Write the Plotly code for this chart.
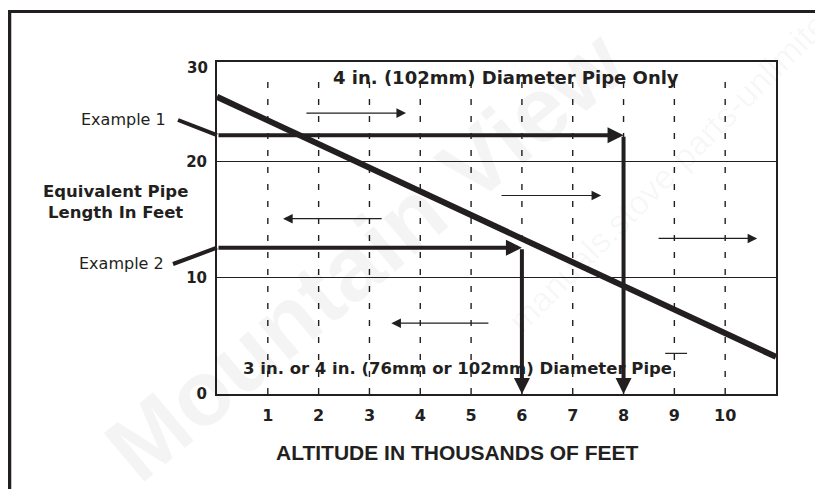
import plotly.graph_objects as go

# ---------------- data ----------------
ALTITUDE_TICKS = [1, 2, 3, 4, 5, 6, 7, 8, 9, 10]
LENGTH_TICKS = [0, 10, 20]
LENGTH_TICK_LABELS = ["0", "10", "20"]
TOP_TICK_LABEL = "30"
X_MAX = 11
Y_MAX = 28.6
GUIDE_TOP = 27.0

CURVE_ALT = [0, 11]
CURVE_LEN = [25.6, 3.2]

EXAMPLE_NAMES = ["Example 1", "Example 2"]
EXAMPLE_LEN = [22.3, 12.6]
EXAMPLE_ALT = [8, 6]

ARROW_FROM = [1.73, 3.27, 5.57, 8.66, 5.37]
ARROW_TO = [3.72, 1.30, 7.56, 10.63, 3.43]
ARROW_LEN = [24.2, 15.1, 17.1, 13.4, 6.1]

STRAY_ALT = [8.82, 9.25]
STRAY_LEN = [3.5, 3.5]

TOP_REGION_TEXT = "4 in. (102mm) Diameter Pipe Only"
TOP_REGION_POS = (5.68, 27.3)
BOTTOM_REGION_TEXT = "3 in. or 4 in. (76mm or 102mm) Diameter Pipe"
BOTTOM_REGION_POS = (4.73, 2.2)

Y_TITLE = "Equivalent Pipe<br>Length In Feet"
X_TITLE = "ALTITUDE IN THOUSANDS OF FEET"

# ---------------- style ----------------
INK = "#231f20"
FONT = "DejaVu Sans"
PAGE_OFFSET = 8          # default body margin of the html page
W, H = 823 - PAGE_OFFSET, 489 - PAGE_OFFSET
PLOT_L, PLOT_R, PLOT_T, PLOT_B = 217, 776, 62, 394   # page pixels
ML = PLOT_L - PAGE_OFFSET
MT = PLOT_T - PAGE_OFFSET
PW = PLOT_R - PLOT_L
PH = PLOT_B - PLOT_T
MR = W - ML - PW
MB = H - MT - PH


def px_x(p):
    return (p - PLOT_L) / PW


def px_y(p):
    return (PLOT_B - p) / PH


fig = go.Figure()

# dashed altitude guides
gx, gy = [], []
for a in ALTITUDE_TICKS:
    gx += [a, a, None]
    gy += [0, GUIDE_TOP, None]
fig.add_trace(go.Scatter(x=gx, y=gy, mode="lines",
                         line=dict(color=INK, width=1.4, dash="6px,11px"),
                         hoverinfo="skip", showlegend=False))

# stray mark
fig.add_trace(go.Scatter(x=STRAY_ALT, y=STRAY_LEN, mode="lines",
                         line=dict(color=INK, width=1.2),
                         hoverinfo="skip", showlegend=False))

# main curve
fig.add_trace(go.Scatter(x=CURVE_ALT, y=CURVE_LEN, mode="lines",
                         line=dict(color=INK, width=6),
                         hoverinfo="skip", showlegend=False))

annotations = []

# watermarks (drawn first, beneath other annotations)
annotations.append(dict(x=px_x(365), y=px_y(255), xref="paper", yref="paper",
                        xanchor="center", yanchor="middle",
                        text="<b>Mountain View</b>", showarrow=False, textangle=-40,
                        font=dict(family="Liberation Sans", size=92, color="rgba(0,0,0,0.045)")))
annotations.append(dict(x=px_x(700), y=px_y(140), xref="paper", yref="paper",
                        xanchor="center", yanchor="middle",
                        text="manuals.stove-parts-unlimited.com", showarrow=False, textangle=-45,
                        font=dict(family="Liberation Sans", size=34, color="rgba(0,0,0,0.04)")))

# example arrows
for name, ylen, alt in zip(EXAMPLE_NAMES, EXAMPLE_LEN, EXAMPLE_ALT):
    annotations.append(dict(x=alt, y=ylen, ax=0, ay=ylen, xref="x", yref="y",
                            axref="x", ayref="y", text="", showarrow=True,
                            arrowhead=2, arrowsize=0.8, arrowwidth=4,
                            arrowcolor=INK, standoff=0))
    annotations.append(dict(x=alt, y=0, ax=alt, ay=ylen, xref="x", yref="y",
                            axref="x", ayref="y", text="", showarrow=True,
                            arrowhead=2, arrowsize=0.8, arrowwidth=4,
                            arrowcolor=INK, standoff=0))

# thin direction arrows
for a0, a1, ylen in zip(ARROW_FROM, ARROW_TO, ARROW_LEN):
    annotations.append(dict(x=a1, y=ylen, ax=a0, ay=ylen, xref="x", yref="y",
                            axref="x", ayref="y", text="", showarrow=True,
                            arrowhead=2, arrowsize=1.6, arrowwidth=1.2,
                            arrowcolor=INK, standoff=0))

# region texts
annotations.append(dict(x=TOP_REGION_POS[0], y=TOP_REGION_POS[1], xref="x", yref="y",
                        text=f"<b>{TOP_REGION_TEXT}</b>", showarrow=False,
                        font=dict(family=FONT, size=18, color=INK)))
annotations.append(dict(x=BOTTOM_REGION_POS[0], y=BOTTOM_REGION_POS[1], xref="x", yref="y",
                        text=f"<b>{BOTTOM_REGION_TEXT}</b>", showarrow=False,
                        font=dict(family=FONT, size=16.5, color=INK)))

# top tick label
annotations.append(dict(x=0, y=1, xref="paper", yref="paper", text=f"<b>{TOP_TICK_LABEL}</b>",
                        xanchor="right", yanchor="middle", xshift=-7, yshift=-6,
                        showarrow=False, font=dict(family=FONT, size=15, color=INK)))

# axis titles
annotations.append(dict(x=px_x(115), y=px_y(202), xref="paper", yref="paper",
                        xanchor="center", yanchor="middle",
                        text=f"<b>{Y_TITLE}</b>", showarrow=False,
                        font=dict(family=FONT, size=16.5, color=INK)))
annotations.append(dict(x=px_x(457), y=px_y(452), xref="paper", yref="paper",
                        xanchor="center", yanchor="middle",
                        text=f"<b>{X_TITLE}</b>", showarrow=False,
                        font=dict(family="Liberation Sans", size=21, color=INK)))

# example labels
annotations.append(dict(x=px_x(168), y=px_y(119), xref="paper", yref="paper",
                        text=EXAMPLE_NAMES[0], xanchor="right", yanchor="middle", showarrow=False,
                        font=dict(family=FONT, size=16, color=INK)))
annotations.append(dict(x=px_x(166), y=px_y(263), xref="paper", yref="paper",
                        text=EXAMPLE_NAMES[1], xanchor="right", yanchor="middle", showarrow=False,
                        font=dict(family=FONT, size=16, color=INK)))

shapes = []
# leaders
shapes.append(dict(type="line", xref="paper", yref="paper",
                   x0=px_x(178), y0=px_y(120), x1=0, y1=EXAMPLE_LEN[0] / Y_MAX,
                   line=dict(color=INK, width=4)))
shapes.append(dict(type="line", xref="paper", yref="paper",
                   x0=px_x(173), y0=px_y(264), x1=0, y1=EXAMPLE_LEN[1] / Y_MAX,
                   line=dict(color=INK, width=4)))
# outer frame (left and top edges)
shapes.append(dict(type="line", xref="paper", yref="paper",
                   x0=px_x(9.5), y0=px_y(11.5), x1=px_x(9.5), y1=px_y(520),
                   line=dict(color=INK, width=3.5)))
shapes.append(dict(type="line", xref="paper", yref="paper",
                   x0=px_x(7.5), y0=px_y(11.5), x1=px_x(840), y1=px_y(11.5),
                   line=dict(color=INK, width=3)))

fig.update_layout(
    width=W, height=H,
    margin=dict(l=ML, r=MR, t=MT, b=MB),
    paper_bgcolor="white", plot_bgcolor="white",
    showlegend=False,
    annotations=annotations,
    shapes=shapes,
    xaxis=dict(range=[0, X_MAX], tickvals=ALTITUDE_TICKS,
               ticktext=[f"<b>{v}</b>" for v in ALTITUDE_TICKS],
               showgrid=False, zeroline=False, showline=True, mirror=True,
               linecolor=INK, linewidth=2, ticks="outside", ticklen=6,
               tickcolor="rgba(0,0,0,0)",
               tickfont=dict(family=FONT, size=16, color=INK), fixedrange=True),
    yaxis=dict(range=[0, Y_MAX], tickvals=LENGTH_TICKS,
               ticktext=[f"<b>{t}</b>" for t in LENGTH_TICK_LABELS],
               showgrid=True, gridcolor=INK, gridwidth=1.3,
               zeroline=False, showline=True, mirror=True,
               linecolor=INK, linewidth=2, ticks="outside", ticklen=5,
               tickcolor="rgba(0,0,0,0)",
               tickfont=dict(family=FONT, size=15, color=INK), fixedrange=True),
)

fig.write_html("out.html")
